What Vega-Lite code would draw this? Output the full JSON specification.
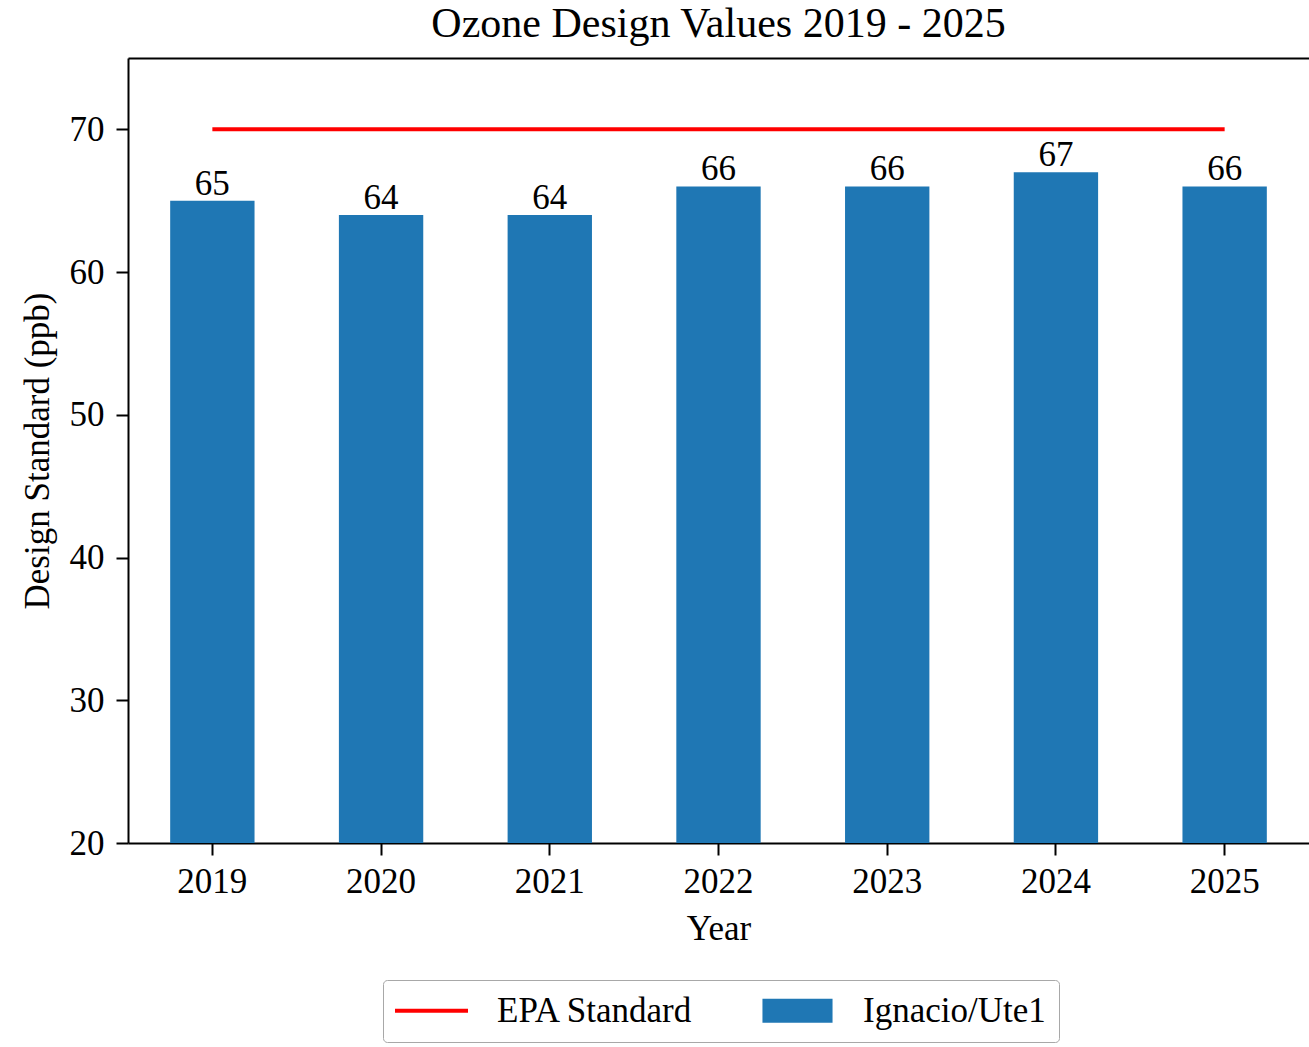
{
  "$schema": "https://vega.github.io/schema/vega-lite/v6.json",
  "autosize": "none",
  "width": 1181,
  "height": 785,
  "padding": {"left": 128, "top": 58, "right": 0, "bottom": 204},
  "background": "white",
  "config": {
    "font": "Liberation Serif",
    "view": {"stroke": null},
    "axis": {
      "grid": false,
      "domainColor": "black",
      "domainWidth": 2,
      "tickColor": "black",
      "tickWidth": 2,
      "tickSize": 12,
      "labelColor": "black",
      "labelFont": "Liberation Serif",
      "labelFontSize": 35,
      "titleColor": "black",
      "titleFont": "Liberation Serif",
      "titleFontSize": 35,
      "titleFontWeight": "normal"
    }
  },
  "title": {
    "text": "Ozone Design Values 2019 - 2025",
    "font": "Liberation Serif",
    "fontSize": 42,
    "fontWeight": "normal",
    "color": "black",
    "anchor": "middle",
    "offset": 12
  },
  "data": {
    "values": [
      {"year": "2019", "value": 65, "epa": 70, "bar_series": "Ignacio/Ute1", "line_series": "EPA Standard"},
      {"year": "2020", "value": 64, "epa": 70, "bar_series": "Ignacio/Ute1", "line_series": "EPA Standard"},
      {"year": "2021", "value": 64, "epa": 70, "bar_series": "Ignacio/Ute1", "line_series": "EPA Standard"},
      {"year": "2022", "value": 66, "epa": 70, "bar_series": "Ignacio/Ute1", "line_series": "EPA Standard"},
      {"year": "2023", "value": 66, "epa": 70, "bar_series": "Ignacio/Ute1", "line_series": "EPA Standard"},
      {"year": "2024", "value": 67, "epa": 70, "bar_series": "Ignacio/Ute1", "line_series": "EPA Standard"},
      {"year": "2025", "value": 66, "epa": 70, "bar_series": "Ignacio/Ute1", "line_series": "EPA Standard"}
    ]
  },
  "resolve": {"axis": {"x": "independent"}},
  "layer": [
    {
      "mark": {"type": "bar", "clip": true},
      "encoding": {
        "x": {
          "field": "year",
          "type": "nominal",
          "scale": {"paddingInner": 0.5, "paddingOuter": 0.25},
          "axis": {"title": "Year", "labelAngle": 0, "labelPadding": 9, "titlePadding": 12, "orient": "bottom"}
        },
        "y": {
          "field": "value",
          "type": "quantitative",
          "scale": {"domain": [20, 75], "nice": false, "zero": false},
          "axis": {"title": "Design Standard (ppb)", "values": [20, 30, 40, 50, 60, 70], "labelPadding": 12, "titlePadding": 14}
        },
        "color": {
          "field": "bar_series",
          "type": "nominal",
          "scale": {"domain": ["EPA Standard", "Ignacio/Ute1"], "range": ["#ff0000", "#1f77b4"]},
          "legend": {
            "title": null,
            "orient": "none",
            "legendX": 255,
            "legendY": 922,
            "direction": "horizontal",
            "labelFont": "Liberation Serif",
            "labelFontSize": 35,
            "labelColor": "black",
            "labelLimit": 500,
            "labelOffset": 48,
            "symbolOffset": 18,
            "columnPadding": 68,
            "padding": 13,
            "strokeColor": "#a8a8a8",
            "fillColor": "white",
            "cornerRadius": 4,
            "symbolSize": 5329,
            "encode": {
              "symbols": {
                "update": {
                  "shape": {"signal": "datum.value === 'EPA Standard' ? 'stroke' : 'M-0.96,-0.33L0.96,-0.33L0.96,0.33L-0.96,0.33Z'"},
                  "fill": {"signal": "datum.value === 'EPA Standard' ? 'transparent' : '#1f77b4'"},
                  "stroke": {"signal": "datum.value === 'EPA Standard' ? '#ff0000' : 'transparent'"},
                  "strokeWidth": {"signal": "datum.value === 'EPA Standard' ? 4 : 0"},
                  "opacity": {"value": 1}
                }
              }
            }
          }
        }
      }
    },
    {
      "mark": {"type": "text", "baseline": "alphabetic", "dy": -6, "fontSize": 35, "font": "Liberation Serif", "color": "black"},
      "encoding": {
        "x": {"field": "year", "type": "nominal", "axis": null},
        "y": {"field": "value", "type": "quantitative"},
        "text": {"field": "value", "type": "quantitative"}
      }
    },
    {
      "mark": {"type": "line", "strokeWidth": 4},
      "encoding": {
        "x": {
          "field": "year",
          "type": "nominal",
          "axis": {"orient": "top", "labels": false, "ticks": false, "title": null}
        },
        "y": {"field": "epa", "type": "quantitative"},
        "color": {"field": "line_series", "type": "nominal"}
      }
    }
  ]
}
